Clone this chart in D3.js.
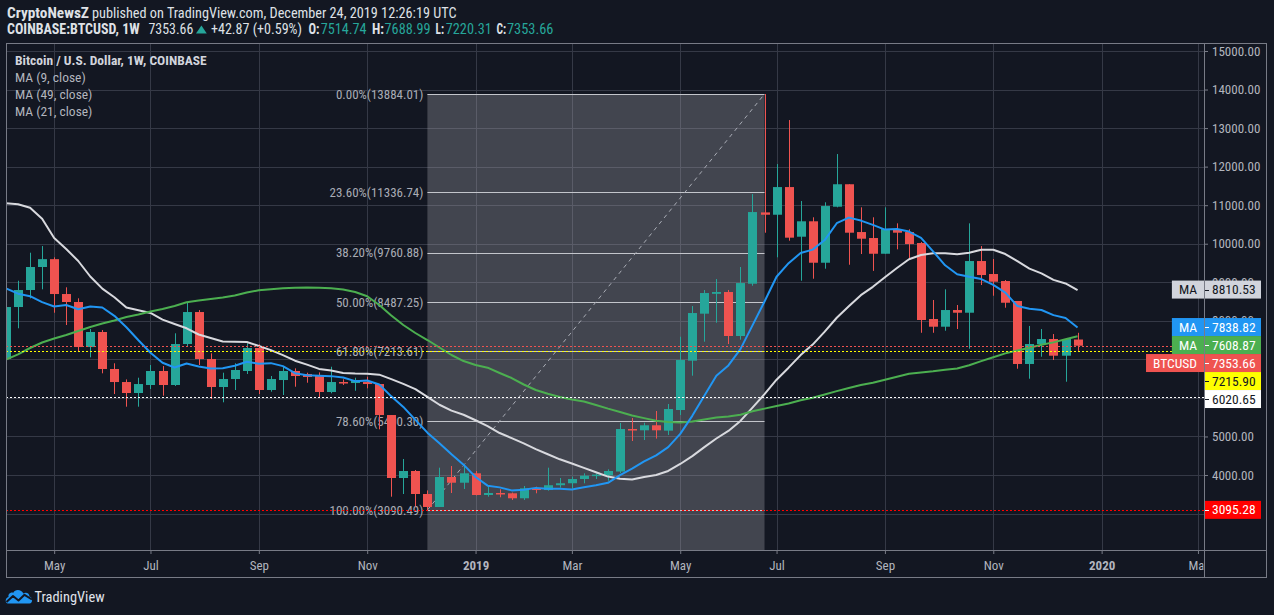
<!DOCTYPE html>
<html><head><meta charset="utf-8">
<script src="https://cdn.jsdelivr.net/npm/d3@7"></script>
<style>
html,body{margin:0;padding:0;background:#131722;overflow:hidden;}
svg{display:block;}
text{font-family:"Liberation Sans Narrow","Roboto Condensed","DejaVu Sans Condensed","Liberation Sans",sans-serif;}
</style></head><body>
<svg id="chart" width="1274" height="615"></svg>
<script>
// ---------------- data ----------------
const firstWeek = "2018-04-09";
const lastWeek = "2019-12-23";
const opens = [7009,8358,8799,9396,9600,8695,8488,7320,7710,6750,6412,6127,6335,6698,6335,7398,8228,7009,6283,6490,6698,7294,6205,6464,6698,6620,6594,6153,6412,6386,6412,6360,5556,3922,4104,3507,3170,3948,3800,4044,3481,3533,3525,3396,3655,3610,3735,3786,3896,3982,3990,4090,5193,5160,5290,5150,5686,6966,8185,8700,8747,7606,8963,10813,10752,11470,10182,10582,9507,10960,11543,10303,10148,9740,10381,10303,10018,8047,7847,8280,8210,9551,9214,9032,8514,6880,7398,7528,7095,7514.74];
const highs = [8430,9040,9767,9940,9647,8869,8584,7787,7761,6898,6480,6524,6853,6827,7676,8470,8280,7157,6654,6898,7416,7390,6568,6809,6767,6654,6663,6809,6482,6524,6550,6360,5556,4415,4130,3600,4190,4233,4285,4104,3715,3629,3545,3715,3697,4190,3922,3956,4044,4044,4148,5350,5478,5357,5660,5842,7587,8384,8799,9084,8800,9396,11289,13884.01,12067,13209,11108,10686,11075,12327,11543,10944,10686,10944,10529,10373,10044,8540,8817,8410,10529,9940,9603,9058,8514,7866,7787,7657,7528,7688.99];
const lows = [6800,7806,8583,8817,8210,7891,7198,7053,6638,6101,5772,5772,6231,6057,6309,7346,6853,5971,5886,6205,6620,6101,6161,6075,6290,6394,6015,6119,6335,6186,6249,5185,3437,3507,3178,3090,3170,3533,3637,3470,3437,3422,3352,3352,3525,3593,3671,3655,3784,3896,3852,4050,4882,4908,4944,5038,5556,6576,7458,7951,7398,7510,8910,10286,9648,10079,9040,9092,9352,10944,9455,9733,9295,9740,9855,9621,7690,7690,7743,7787,7276,8929,8651,8340,6757,6498,7069,6983,6420,7220.31];
const closes = [8358,8799,9396,9600,8695,8488,7320,7710,6750,6412,6127,6360,6698,6335,7398,8228,7009,6283,6490,6724,7294,6205,6490,6698,6568,6542,6153,6412,6386,6464,6360,5556,3922,4104,3507,3170,3948,3800,4044,3481,3533,3525,3396,3655,3610,3735,3786,3896,3982,4010,4104,5193,5160,5290,5160,5712,6983,8202,8721,8747,7606,8980,10822,10752,11470,10157,10582,9507,10978,11543,10286,10130,9740,10381,10286,9992,8021,7847,8280,8210,9551,9188,9014,8469,6880,7398,7528,7095,7528,7353.66];
// moving-average values for the first weeks (their windows start before the visible data)
const ma9Lead = [8838,8704,8640,8485,8371,8410,8299,8371];
const ma21Lead = [11049,11023,10932,10650,10148,9863,9552,9150,8836,8610,8343,8273,8203,8032,7917,7806,7645,7554,7463,7458];
const ma49Lead = [6996,7131,7295,7437,7541,7632,7736,7839,7930,8008,8099,8164,8241,8306,8384,8480,8527,8566,8605,8657,8735,8792,8818,8844,8859,8864,8857,8844,8812,8747,8636,8410,8138,7891,7684,7502,7308,7113,6957,6854,6784,6646,6516,6348,6205,6109,6023,5958];
const priceTicks = [3000,4000,5000,6000,7000,8000,9000,10000,11000,12000,13000,14000,15000];
const timeTickDates = ["2018-05-07","2018-07-02","2018-09-03","2018-11-05","2019-01-07","2019-03-04","2019-05-06","2019-07-01","2019-09-02","2019-11-04","2020-01-06","2020-03-02"];
const timeTickLabels = ["May","Jul","Sep","Nov","2019","Mar","May","Jul","Sep","Nov","2020","Mar"];
const fibPercents = ["0.00","23.60","38.20","50.00","61.80","78.60","100.00"];
const fibPrices = [13884.01,11336.74,9760.88,8487.25,7213.61,5400.30,3090.49];
const fibStartWeek = "2018-12-10";
const fibEndWeek = "2019-06-24";
const hLinePrices = [7353.66,7215.90,6020.65,3095.28];
const labelNames = ["MA","MA","MA","BTCUSD","","",""];
const labelValues = [8810.53,7838.82,7608.87,7353.66,7215.90,6020.65,3095.28];
const legendLines = ["Bitcoin / U.S. Dollar, 1W, COINBASE","MA (9, close)","MA (49, close)","MA (21, close)"];

// ---------------- styles ----------------
const BG = "#131722", GRID = "#353946", FRAME = "#787b86", AXT = "#b2b5be";
const UP = "#26a69a", DOWN = "#ef5350";
const hLineColors = ["#ef5350","#ffff00","#ffffff","#ff0000"];
const labelBg = ["#d1d4dc","#2196f3","#4caf50","#ef5350","#ffff00","#ffffff","#ff0000"];
const labelFg = ["#131722","#ffffff","#ffffff","#ffffff","#131722","#131722","#ffffff"];

const svg = d3.select("#chart");
const W = 1274, H = 615;
const L = 6, R = 1204, T = 43, B = 550, FR = 1267, FB = 578;
svg.append("rect").attr("width", W).attr("height", H).attr("fill", BG);

const parse = d3.utcParse("%Y-%m-%d");
const weeks = d3.utcMonday.range(parse(firstWeek), d3.utcDay.offset(parse(lastWeek), 1));
const data = weeks.map((d, i) => ({date: d, o: opens[i], h: highs[i], l: lows[i], c: closes[i]}));

const step = 12.04;
const x = d3.scaleUtc().domain([parse(firstWeek), parse(lastWeek)]).range([L, L + (weeks.length - 1) * step]);
const y = d3.scaleLinear().domain([4000, 15000]).range([475, 51]);

const defs = svg.append("defs");
defs.append("clipPath").attr("id", "plotClip").append("rect").attr("x", L + 0.5).attr("y", T).attr("width", R - L - 0.5).attr("height", B - T);
defs.append("clipPath").attr("id", "timeClip").append("rect").attr("x", L).attr("y", B).attr("width", R - L - 0.5).attr("height", FB - B);

const plot = svg.append("g").attr("clip-path", "url(#plotClip)");

// grid
const tDates = timeTickDates.map(parse);
plot.append("g").selectAll("line").data(priceTicks).join("line")
  .attr("x1", L).attr("x2", R).attr("y1", d => Math.round(y(d)) + 0.5).attr("y2", d => Math.round(y(d)) + 0.5)
  .attr("stroke", GRID).attr("stroke-width", 1);
plot.append("g").selectAll("line").data(tDates).join("line")
  .attr("x1", d => Math.round(x(d)) + 0.5).attr("x2", d => Math.round(x(d)) + 0.5).attr("y1", T).attr("y2", B)
  .attr("stroke", GRID).attr("stroke-width", 1);

// fib retracement
const fx1 = x(parse(fibStartWeek)), fx2 = x(parse(fibEndWeek));
plot.append("rect").attr("x", fx1).attr("y", y(fibPrices[0])).attr("width", fx2 - fx1).attr("height", B - y(fibPrices[0]))
  .attr("fill", "rgba(176,176,186,0.3)");
plot.append("g").selectAll("line").data(fibPrices).join("line")
  .attr("x1", fx1).attr("x2", fx2).attr("y1", d => Math.round(y(d)) + 0.5).attr("y2", d => Math.round(y(d)) + 0.5)
  .attr("stroke", "#c3c5cb").attr("stroke-width", 1);
plot.append("g").selectAll("text").data(fibPrices).join("text")
  .attr("x", fx1 - 4).attr("y", d => y(d) + 4.5).attr("text-anchor", "end")
  .attr("font-size", 13).attr("fill", "#a9acb5")
  .text((d, i) => fibPercents[i] + "%(" + d.toFixed(2) + ")");
plot.append("line").attr("x1", fx1).attr("y1", y(fibPrices[6])).attr("x2", fx2).attr("y2", y(fibPrices[0]))
  .attr("stroke", "#a9acb5").attr("stroke-width", 1).attr("stroke-dasharray", "4,4");

// candles
const cg = plot.append("g");
cg.selectAll("line").data(data).join("line")
  .attr("x1", d => Math.round(x(d.date)) + 0.5).attr("x2", d => Math.round(x(d.date)) + 0.5)
  .attr("y1", d => y(d.h)).attr("y2", d => y(d.l))
  .attr("stroke", d => d.c >= d.o ? UP : DOWN).attr("stroke-width", 1);
cg.selectAll("rect").data(data).join("rect")
  .attr("x", d => Math.round(x(d.date)) - 4).attr("width", 9)
  .attr("y", d => y(Math.max(d.o, d.c))).attr("height", d => Math.max(1.5, Math.abs(y(d.o) - y(d.c))))
  .attr("fill", d => d.c >= d.o ? UP : DOWN);

// moving averages
function movingAverage(len, lead) {
  return closes.map((c, i) => i < len - 1 ? lead[i] : d3.mean(closes.slice(i - len + 1, i + 1)));
}
const maSpecs = [
  {vals: movingAverage(21, ma21Lead), color: "#d8d9de"},
  {vals: movingAverage(49, ma49Lead), color: "#4caf50"},
  {vals: movingAverage(9, ma9Lead), color: "#2196f3"}
];
const lineGen = d3.line().x(d => x(d.date)).y(d => y(d.v));
maSpecs.forEach(s => {
  plot.append("path").datum(data.map((d, i) => ({date: d.date, v: s.vals[i]})))
    .attr("d", lineGen).attr("fill", "none").attr("stroke", s.color).attr("stroke-width", 2)
    .attr("stroke-linejoin", "round");
});

// horizontal lines
plot.append("g").selectAll("line").data(hLinePrices).join("line")
  .attr("x1", L).attr("x2", R).attr("y1", d => Math.round(y(d)) + 0.5).attr("y2", d => Math.round(y(d)) + 0.5)
  .attr("stroke", (d, i) => hLineColors[i]).attr("stroke-width", 1).attr("stroke-dasharray", "2,2");

// legend
const lg = svg.append("g");
lg.selectAll("text").data(legendLines).join("text")
  .attr("x", 15).attr("y", (d, i) => 65 + i * 17)
  .attr("font-size", 13.5).attr("font-weight", (d, i) => i === 0 ? 700 : 400)
  .attr("fill", (d, i) => i === 0 ? "#d1d4dc" : "#b2b5be")
  .text(d => d);

// price labels (stacked to avoid overlap), computed first so covered axis labels can be skipped
const LH = 18;
const items = labelValues.map((v, i) => ({v, name: labelNames[i], bg: labelBg[i], fg: labelFg[i], yc: y(v)}))
  .sort((a, b) => a.yc - b.yc);
for (let i = 1; i < items.length; i++) {
  if (items[i].yc < items[i - 1].yc + LH) items[i].yc = items[i - 1].yc + LH;
}
// axis ticks whose label is entirely hidden under a price label
const hiddenTick = d => items.some(it => Math.abs(it.yc - y(d)) < 5);

// price axis
const yAxis = svg.append("g").attr("transform", `translate(${R},0)`)
  .call(d3.axisRight(y).tickValues(priceTicks).tickFormat(d => d.toFixed(2)).tickSize(4).tickPadding(4));
yAxis.select(".domain").remove();
yAxis.selectAll("line").attr("stroke", FRAME);
yAxis.selectAll("text").attr("fill", AXT).attr("font-size", 13).attr("font-family", null);
yAxis.selectAll(".tick").filter(d => hiddenTick(d)).select("text").remove();

// time axis
const xAxisG = svg.append("g").attr("clip-path", "url(#timeClip)");
const xAxis = xAxisG.append("g").attr("transform", `translate(0,${B})`)
  .call(d3.axisBottom(x).tickValues(tDates).tickFormat((d, i) => timeTickLabels[i]).tickSize(4));
xAxis.select(".domain").remove();
xAxis.selectAll("line").attr("stroke", FRAME);
xAxis.selectAll("text").attr("fill", AXT).attr("font-size", 13).attr("font-family", null)
  .attr("y", 20).attr("dy", 0)
  .attr("font-weight", (d, i) => /^\d{4}$/.test(timeTickLabels[i]) ? 700 : 400);

const lab = svg.append("g");
items.forEach(it => {
  const g = lab.append("g");
  g.append("rect").attr("x", R).attr("y", it.yc - LH / 2).attr("width", 57).attr("height", LH).attr("fill", it.bg);
  g.append("line").attr("x1", R + 1).attr("x2", R + 5).attr("y1", Math.round(it.yc) + 0.5).attr("y2", Math.round(it.yc) + 0.5)
    .attr("stroke", it.fg).attr("stroke-width", 1);
  g.append("text").attr("x", R + 8).attr("y", it.yc + 4.6).attr("font-size", 13.5).attr("fill", it.fg).text(it.v.toFixed(2));
  if (it.name) {
    const t = g.append("text").attr("y", it.yc + 4.6).attr("font-size", 13.5).attr("fill", it.fg).text(it.name);
    const w = t.node().getComputedTextLength() + 14;
    g.insert("rect", "text").attr("x", R - w).attr("y", it.yc - LH / 2).attr("width", w).attr("height", LH).attr("fill", it.bg);
    t.attr("x", R - w / 2).attr("text-anchor", "middle");
  }
});

// frame and separators
svg.append("rect").attr("x", L + 0.5).attr("y", T + 0.5).attr("width", FR - L - 1).attr("height", FB - T - 1)
  .attr("fill", "none").attr("stroke", FRAME).attr("stroke-width", 1);
svg.append("line").attr("x1", L).attr("x2", FR).attr("y1", B + 0.5).attr("y2", B + 0.5).attr("stroke", FRAME);
svg.append("line").attr("x1", R + 0.5).attr("x2", R + 0.5).attr("y1", T).attr("y2", FB).attr("stroke", FRAME);

// header
const hdr = svg.append("g");
function seg(txt, x0, len, yb, opts) {
  return hdr.append("text").attr("x", x0).attr("y", yb).attr("font-size", 14)
    .attr("fill", opts.fill || "#dfe1e6").attr("font-weight", opts.bold ? 700 : 400)
    .attr("textLength", len).attr("lengthAdjust", "spacingAndGlyphs").text(txt);
}
seg("CryptoNewsZ", 7, 82, 18, {bold: true});
seg("published on TradingView.com, December 24, 2019 12:26:19 UTC", 92, 364.5, 18, {});
seg("COINBASE:BTCUSD, 1W", 7, 132.7, 34, {bold: true});
seg("7353.66", 148.5, 44.8, 34, {});
hdr.append("path").attr("d", "M196,33.5 L201.4,25.5 L206.8,33.5 Z").attr("fill", UP);
seg("+42.87 (+0.59%)", 211, 91, 34, {});
seg("O:", 308.5, 11, 34, {bold: true});
seg("7514.74", 320.7, 45.9, 34, {fill: UP});
seg("H:", 372, 12, 34, {bold: true});
seg("7688.99", 384.6, 45.9, 34, {fill: UP});
seg("L:", 435.5, 8.5, 34, {bold: true});
seg("7220.31", 445.8, 46, 34, {fill: UP});
seg("C:", 496.4, 9.6, 34, {bold: true});
seg("7353.66", 507, 46.4, 34, {fill: UP});

// TradingView logo
const logo = svg.append("g");
logo.append("path").attr("d", "M8,603.5 L29.5,603.5 C33,603.5 33,597 29.5,596.8 C29.8,593 25.5,591.5 23.3,593.6 C21.8,589.3 15,588.6 13.3,592.8 C10.3,591.8 7.8,594.5 8.6,597 C5,597.5 4.8,603.5 8,603.5 Z")
  .attr("fill", "#2196f3");
logo.append("path").attr("d", "M6.5,602 L13,596 L18.5,600.5 L24.5,594.8 L32,599.5")
  .attr("fill", "none").attr("stroke", BG).attr("stroke-width", 2).attr("stroke-linejoin", "round");
logo.append("text").attr("x", 34.5).attr("y", 602).attr("font-size", 15.5).attr("fill", "#e0e3eb")
  .attr("textLength", 70).attr("lengthAdjust", "spacingAndGlyphs").text("TradingView");
</script>
</body></html>
